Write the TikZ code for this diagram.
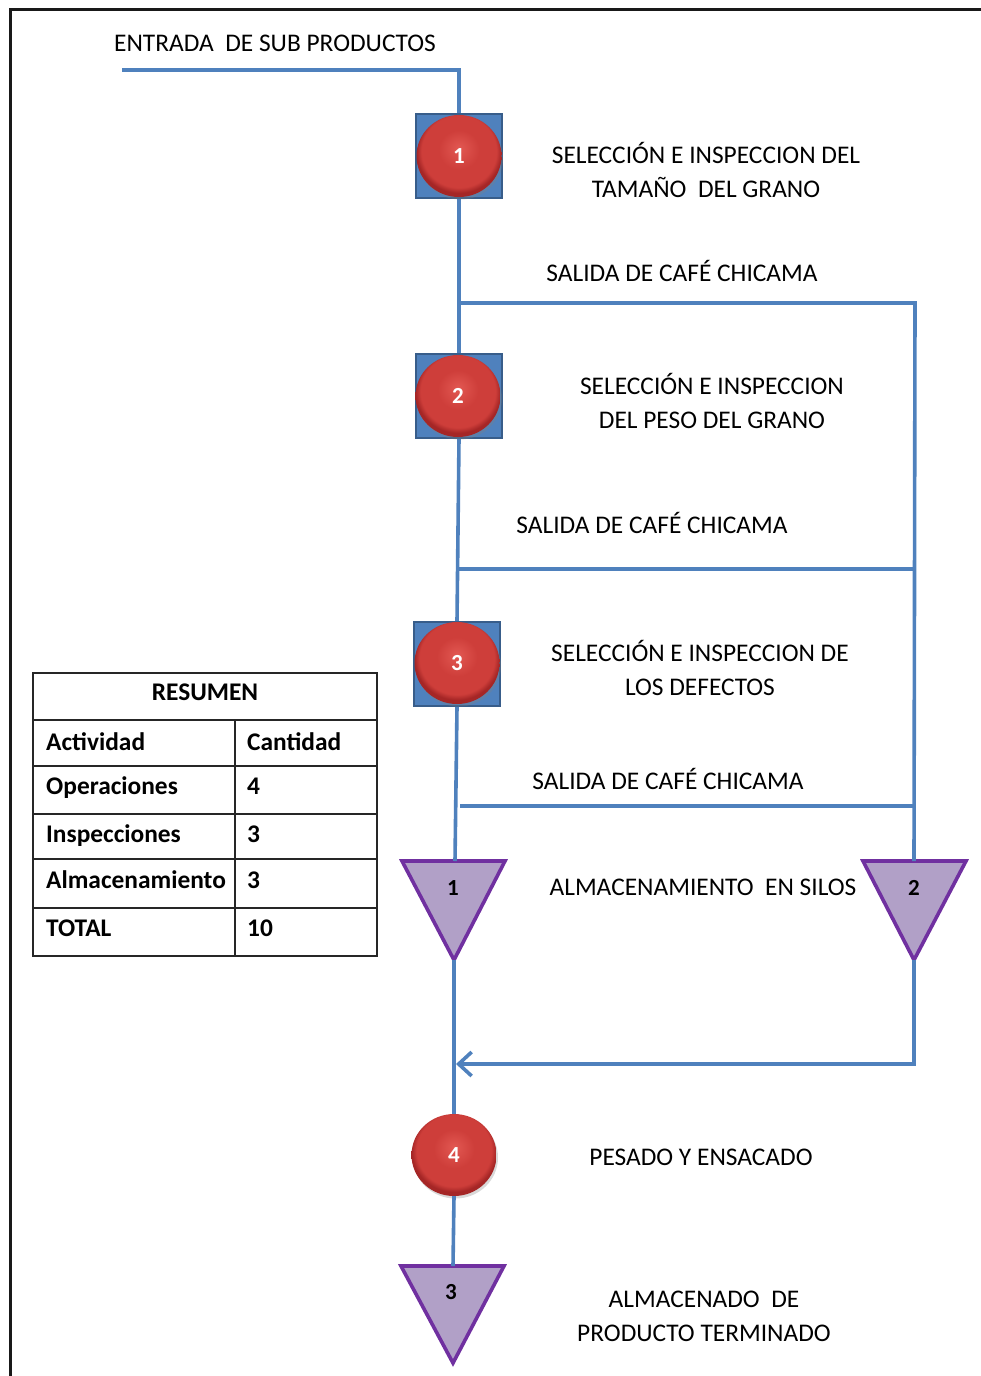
\documentclass[tikz,border=0pt]{standalone}
\usepackage{fontspec}
\setmainfont{Carlito}
\usetikzlibrary{shapes.geometric,arrows.meta,shadows}

\definecolor{flowblue}{RGB}{79,129,189}
\definecolor{sqedge}{RGB}{56,93,138}
\definecolor{triFill}{RGB}{177,160,199}
\definecolor{triEdge}{RGB}{112,48,160}
\definecolor{ballA}{RGB}{226,88,82}
\definecolor{ballB}{RGB}{206,62,58}
\definecolor{ballC}{RGB}{165,38,38}
\pgfdeclareradialshading{redball}{\pgfpoint{0bp}{5bp}}{color(0bp)=(ballA); color(12bp)=(ballB); color(22bp)=(ballB); color(25bp)=(ballC); color(50bp)=(ballC)}

\tikzset{
  flow/.style={draw=flowblue, line width=3.6pt},
  opsq/.style={draw=sqedge, fill=flowblue, line width=1.6pt, minimum width=86pt, minimum height=84pt, inner sep=0pt},
  ball/.style={ellipse, shade, shading=redball, minimum width=85pt, minimum height=82pt, inner sep=0pt,
    text=white, font=\fontsize{23}{23}\selectfont\bfseries,
    drop shadow={shadow xshift=1.5pt, shadow yshift=-2.5pt, opacity=0.3}},
  trifig/.style={draw=triEdge, fill=triFill, line width=3.6pt, line join=miter},
  tnum/.style={font=\fontsize{23}{23}\selectfont\bfseries, inner sep=0pt},
  lbl/.style={font=\fontsize{25.4}{34}\selectfont, align=center, inner sep=0pt},
  cell/.style={font=\fontsize{25.4}{25.4}\selectfont\bfseries, anchor=base west, inner sep=0pt},
  grid/.style={draw=black!85, line width=1.8pt},
}

\begin{document}
\begin{tikzpicture}[x=1pt,y=-1pt]
\useasboundingbox (0,0) rectangle (981,1376);

% frame
\draw[line width=3pt, black!90] (10,1380) -- (10,9) -- (985,9);

% ---------- process chart ----------
\node[lbl] (entrada) at (275,43) {ENTRADA\ \ DE SUB PRODUCTOS};
\coordinate (in) at (122,70);

% operation/inspection 1
\node[opsq] (sq1) at (459,156) {};
\node[ball] (op1) at (459,156) {1};
\node[lbl] (txt1) at (706,170) {SELECCIÓN E INSPECCION DEL\\TAMAÑO\ \ DEL GRANO};
\node[lbl] (sal1) at (682,271) {SALIDA DE CAFÉ CHICAMA};

% operation/inspection 2
\node[opsq] (sq2) at (459,396) {};
\node[ball] (op2) at (458,396) {2};
\node[lbl] (txt2) at (712,401) {SELECCIÓN E INSPECCION\\DEL PESO DEL GRANO};
\node[lbl] (sal2) at (652,523) {SALIDA DE CAFÉ CHICAMA};

% operation/inspection 3
\node[opsq] (sq3) at (457,664) {};
\node[ball] (op3) at (457,663) {3};
\node[lbl] (txt3) at (700,668) {SELECCIÓN E INSPECCION DE\\LOS DEFECTOS};
\node[lbl] (sal3) at (668,779) {SALIDA DE CAFÉ CHICAMA};

% storage in silos
\draw[trifig] (402,861) -- (505,861) -- (454,960) -- cycle;
\coordinate (t1top) at (455,861);
\coordinate (t1bot) at (454,960);
\node[tnum] (s1) at (453,888) {1};

\draw[trifig] (863,861) -- (966,861) -- (914,960) -- cycle;
\coordinate (t2top) at (914,861);
\coordinate (t2bot) at (914,960);
\node[tnum] (s2) at (914,888) {2};

\node[lbl] (silos) at (703,887) {ALMACENAMIENTO\ \ EN SILOS};

% operation 4
\node[ball] (op4) at (454,1155) {4};
\node[lbl] (txt4) at (701,1157) {PESADO Y ENSACADO};

% final storage
\draw[trifig] (401,1266) -- (504,1266) -- (453,1363) -- cycle;
\coordinate (t3top) at (453,1266);
\node[tnum] (s3) at (451,1292) {3};
\node[lbl] (txt5) at (704,1316) {ALMACENADO\ \ DE\\PRODUCTO TERMINADO};

% main flow line
\draw[flow] (in) -| (sq1.north);
\draw[flow] (sq1.south) -- (sq2.north);
\draw[flow] (sq2.south) -- (sq3.north);
\draw[flow] (sq3.south) -- (t1top);
\draw[flow] (t1bot) -- (op4.north);
\draw[flow] (op4.south) -- (t3top);

% by-product outlets to the second silo
\coordinate (j1) at (460,303);
\coordinate (r1) at (915,303);
\coordinate (j2) at (459,569);
\coordinate (r2) at (915,569);
\coordinate (j3) at (460,806);
\coordinate (r3) at (915,806);
\coordinate (ret) at (456,1064);
\draw[flow] (j1) -- (r1) -- (t2top);
\draw[flow] (j2) -- (r2);
\draw[flow] (j3) -- (r3);
\draw[flow, -{Straight Barb[length=13pt,width=24pt]}] (t2bot) |- (ret);

% ---------- summary table ----------
\draw[grid] (33,673) rectangle (377,956);
\draw[grid] (33,720) -- (377,720);
\draw[grid] (33,766) -- (377,766);
\draw[grid] (33,814) -- (377,814);
\draw[grid] (33,859) -- (377,859);
\draw[grid] (33,908) -- (377,908);
\draw[grid] (235,720) -- (235,956);

\node[cell, anchor=base] (resumen) at (205,700) {RESUMEN};
\node[cell] (hA) at (46,750) {Actividad};
\node[cell] (hB) at (247,750) {Cantidad};
\node[cell] (rA1) at (46,794) {Operaciones};
\node[cell] (rB1) at (247,794) {4};
\node[cell] (rA2) at (46,842) {Inspecciones};
\node[cell] (rB2) at (247,842) {3};
\node[cell] (rA3) at (46,888) {Almacenamiento};
\node[cell] (rB3) at (247,888) {3};
\node[cell] (rA4) at (46,936) {TOTAL};
\node[cell] (rB4) at (247,936) {10};
\end{tikzpicture}
\end{document}
